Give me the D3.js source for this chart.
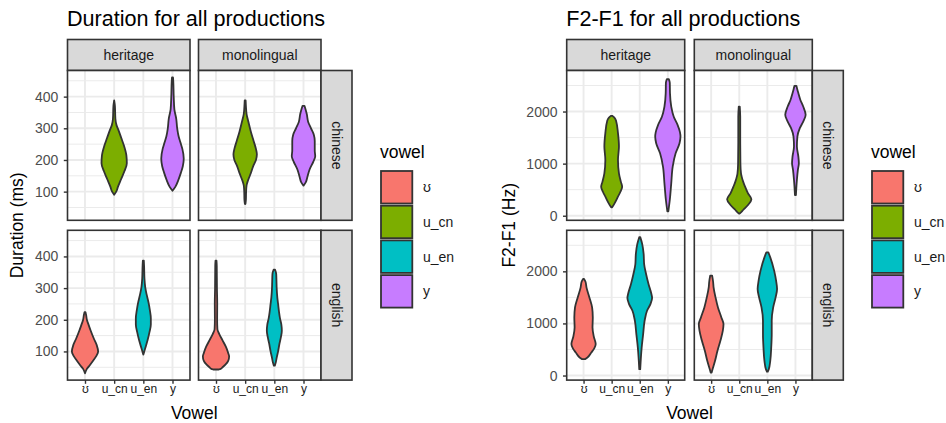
<!DOCTYPE html>
<html><head><meta charset="utf-8">
<script src="https://cdn.jsdelivr.net/npm/d3@7"></script>
<style>body{margin:0;background:#fff}svg{display:block;font-family:"Liberation Sans",Arial,sans-serif}</style>
</head><body><svg id="c" width="946" height="423"></svg>
<script>
// ---------- data ----------
const vowels = ["ʊ","u_cn","u_en","y"];
const groups = ["heritage","monolingual"];
const languages = ["chinese","english"];
const vowelColors = ["#F8766D","#7CAE00","#00BFC4","#C77CFF"];
const durTicks = [100,200,300,400];
const durMinor = [50,150,250,350,450];
const f2Ticks = [0,1000,2000];
const f2Minor = [500,1500,2500];

// violin density profiles: [value, density]
const durHerChiUcn = [[388,0],[370,0.8],[330,1.3],[310,2.5],[295,4.5],[270,7.5],[245,10.5],[215,13],[190,13.5],[165,11],[140,7.5],[115,4],[100,2.2],[90,0]];
const durHerChiY   = [[461,0.5],[450,0.8],[400,1.3],[360,2],[330,4],[300,5],[275,6.5],[255,8.5],[235,10.5],[205,12],[180,11],[160,9],[135,6],[115,3],[103,0]];
const durMonChiUcn = [[388,0.5],[370,0.8],[345,1.5],[320,3.5],[290,6],[260,9],[235,11.5],[218,12.5],[200,11.5],[180,8.5],[158,6],[135,3],[120,1.5],[100,1],[75,0.8],[61,0.3]];
const durMonChiY   = [[371,1],[362,2],[345,3.5],[320,5],[300,8],[280,11],[260,12],[230,12],[212,12.5],[195,10.5],[170,6.5],[145,4],[130,2.5],[119,0]];
const durHerEngU   = [[224,0.5],[215,1.2],[200,2],[187,3.5],[166,6],[140,9.5],[120,12.5],[100,14],[85,12],[72,9],[58,5.5],[45,2],[31,0]];
const durHerEngUen = [[387,0.5],[370,0.8],[330,1.2],[303,2],[280,3.5],[255,5.5],[230,7],[205,8],[185,8],[160,6.5],[135,4.5],[110,2],[90,0]];
const durMonEngU   = [[387,0.5],[370,0.8],[300,1],[250,1.3],[200,1.2],[170,1.5],[155,3.5],[135,7],[115,10.5],[95,13],[84,14],[70,13],[58,10],[50,7],[45,5],[43,3]];
const durMonEngUen = [[358,0.8],[345,2],[320,2.3],[300,2.5],[270,3.2],[250,4],[225,5],[205,6],[185,7.5],[165,8],[145,7],[125,5.5],[100,4],[80,2.5],[65,1.5],[55,0.5]];

const f2HerChiUcn = [[1917,0.5],[1880,3],[1810,4.7],[1585,6.5],[1327,7.5],[1071,6.5],[815,7.5],[650,9.5],[558,10.8],[460,9],[366,6.5],[238,3],[162,0.5]];
const f2HerChiY   = [[2623,1],[2550,2],[2353,2.2],[2096,3.5],[1904,6],[1744,10],[1600,12.5],[1519,13],[1391,12],[1199,8],[943,5],[622,3.5],[302,2],[85,0.5]];
const f2MonChiUcn = [[2096,0.5],[1900,1],[1400,1],[1000,1.2],[815,1.8],[750,2.5],[654,4],[558,6],[430,9],[315,12.5],[206,9],[110,4],[60,1.5],[43,0.3]];
const f2MonChiY   = [[2494,1],[2420,2],[2353,3],[2225,5],[2096,8],[1937,10.5],[1808,8],[1680,4.5],[1519,2],[1327,1.5],[1135,3],[1008,3.5],[879,2.5],[687,1.5],[398,0.5]];
const f2HerEngU   = [[1854,0.5],[1800,2],[1692,3],[1500,6],[1308,8.8],[1115,9.5],[923,9.2],[750,10.5],[604,12.5],[520,11],[442,8],[346,4],[315,1.5]];
const f2HerEngUen = [[2657,0.5],[2527,2.5],[2335,4],[2141,4.5],[1949,6.5],[1756,9],[1564,12],[1487,12.7],[1372,11],[1244,7.5],[1051,5],[796,3.5],[540,2],[123,0.5]];
const f2MonEngU   = [[1917,1],[1800,2],[1692,2.5],[1500,4.5],[1308,7],[1115,10.5],[988,12.7],[860,12],[667,9.5],[476,6.5],[283,4],[123,1.5],[58,0.5]];
const f2MonEngUen = [[2365,1],[2269,3],[2013,7],[1820,9],[1660,10],[1500,8.5],[1308,6],[1051,4.5],[796,4.5],[540,4],[283,3],[123,1.5],[77,0.5]];

const durViolins = [
  {group:"heritage",    lang:"chinese", vowel:"u_cn", profile:durHerChiUcn},
  {group:"heritage",    lang:"chinese", vowel:"y",    profile:durHerChiY},
  {group:"monolingual", lang:"chinese", vowel:"u_cn", profile:durMonChiUcn},
  {group:"monolingual", lang:"chinese", vowel:"y",    profile:durMonChiY},
  {group:"heritage",    lang:"english", vowel:"ʊ",    profile:durHerEngU},
  {group:"heritage",    lang:"english", vowel:"u_en", profile:durHerEngUen},
  {group:"monolingual", lang:"english", vowel:"ʊ",    profile:durMonEngU},
  {group:"monolingual", lang:"english", vowel:"u_en", profile:durMonEngUen}
];
const f2Violins = [
  {group:"heritage",    lang:"chinese", vowel:"u_cn", profile:f2HerChiUcn},
  {group:"heritage",    lang:"chinese", vowel:"y",    profile:f2HerChiY},
  {group:"monolingual", lang:"chinese", vowel:"u_cn", profile:f2MonChiUcn},
  {group:"monolingual", lang:"chinese", vowel:"y",    profile:f2MonChiY},
  {group:"heritage",    lang:"english", vowel:"ʊ",    profile:f2HerEngU},
  {group:"heritage",    lang:"english", vowel:"u_en", profile:f2HerEngUen},
  {group:"monolingual", lang:"english", vowel:"ʊ",    profile:f2MonEngU},
  {group:"monolingual", lang:"english", vowel:"u_en", profile:f2MonEngUen}
];

// ---------- drawing ----------
const svg = d3.select("#c");
const color = d3.scaleOrdinal().domain(vowels).range(vowelColors);
const DARK = "#333333", GRID = "#ebebeb";
const FONT = '"Liberation Sans",Arial,sans-serif';

function drawChart(cfg) {
  const g = svg.append("g");
  const all = cfg.violins.flatMap(v => v.profile);
  const lo = d3.min(all, d => d[0]), hi = d3.max(all, d => d[0]);
  const pad = (hi - lo) * 0.05;
  const dMax = d3.max(all, d => d[1]);
  const pw = cfg.pw, ph = cfg.ph, stripH = 31;

  cfg.cols.forEach((cx, ci) => {
    g.append("rect").attr("x", cx).attr("y", cfg.rows[0] - stripH).attr("width", pw).attr("height", stripH)
      .attr("fill", "#d9d9d9").attr("stroke", DARK).attr("stroke-width", 1.6);
    g.append("text").attr("x", cx + pw / 2).attr("y", cfg.rows[0] - stripH / 2).attr("dy", "0.35em")
      .attr("text-anchor", "middle").attr("font-size", 14).attr("fill", "#1a1a1a").text(groups[ci]);

    cfg.rows.forEach((ry, ri) => {
      const x = d3.scalePoint().domain(vowels).range([cx, cx + pw]).padding(0.6);
      const y = d3.scaleLinear().domain([lo - pad, hi + pad]).range([ry + ph, ry]);
      const w = d3.scaleLinear().domain([0, dMax]).range([0, 0.45 * x.step()]);
      const inR = v => y(v) >= ry && y(v) <= ry + ph;

      g.append("rect").attr("x", cx).attr("y", ry).attr("width", pw).attr("height", ph).attr("fill", "#fff");
      g.selectAll(null).data(cfg.minor.filter(inR)).join("line")
        .attr("x1", cx).attr("x2", cx + pw).attr("y1", d => y(d)).attr("y2", d => y(d))
        .attr("stroke", GRID).attr("stroke-width", 1);
      g.selectAll(null).data(cfg.ticks.filter(inR)).join("line")
        .attr("x1", cx).attr("x2", cx + pw).attr("y1", d => y(d)).attr("y2", d => y(d))
        .attr("stroke", GRID).attr("stroke-width", 1.9);
      g.selectAll(null).data(vowels).join("line")
        .attr("x1", d => x(d)).attr("x2", d => x(d)).attr("y1", ry).attr("y2", ry + ph)
        .attr("stroke", GRID).attr("stroke-width", 1.9);

      cfg.violins.filter(v => v.group === groups[ci] && v.lang === languages[ri]).forEach(v => {
        const xc = x(v.vowel);
        const area = d3.area().curve(d3.curveMonotoneY)
          .y(d => y(d[0])).x0(d => xc - w(d[1])).x1(d => xc + w(d[1]));
        g.append("path").attr("d", area(v.profile))
          .attr("fill", color(v.vowel)).attr("stroke", DARK).attr("stroke-width", 1.8)
          .attr("stroke-linejoin", "round");
      });

      g.append("rect").attr("x", cx).attr("y", ry).attr("width", pw).attr("height", ph)
        .attr("fill", "none").attr("stroke", DARK).attr("stroke-width", 1.6);

      if (ci === 0) {
        const ax = g.append("g").attr("transform", `translate(${cx},0)`)
          .call(d3.axisLeft(y).tickValues(cfg.ticks).tickFormat(d3.format("d")).tickSize(3.7).tickPadding(5.5));
        ax.select(".domain").remove();
        ax.selectAll(".tick line").attr("stroke", DARK).attr("stroke-width", 1.4);
        ax.selectAll(".tick text").attr("font-size", 14).attr("fill", "#4d4d4d").attr("font-family", FONT);
      }
      if (ri === cfg.rows.length - 1) {
        const ax = g.append("g").attr("transform", `translate(0,${ry + ph})`)
          .call(d3.axisBottom(x).tickSize(3.7).tickPadding(0.5));
        ax.select(".domain").remove();
        ax.selectAll(".tick line").attr("stroke", DARK).attr("stroke-width", 1.4);
        ax.selectAll(".tick text").attr("font-size", 12).attr("fill", "#1a1a1a").attr("font-family", FONT);
      }
      if (ci === cfg.cols.length - 1) {
        const sx = cx + pw;
        g.append("rect").attr("x", sx).attr("y", ry).attr("width", stripH).attr("height", ph)
          .attr("fill", "#d9d9d9").attr("stroke", DARK).attr("stroke-width", 1.6);
        g.append("text").attr("transform", `translate(${sx + stripH / 2},${ry + ph / 2}) rotate(90)`)
          .attr("dy", "0.35em").attr("text-anchor", "middle").attr("font-size", 14)
          .attr("fill", "#1a1a1a").text(languages[ri]);
      }
    });
  });

  const left = cfg.cols[0], right = cfg.cols[cfg.cols.length - 1] + pw;
  const top = cfg.rows[0], bottom = cfg.rows[cfg.rows.length - 1] + ph;
  g.append("text").attr("x", left - 0.5).attr("y", 26).attr("font-size", 21.6).attr("fill", "#000").text(cfg.title);
  g.append("text").attr("x", (left + right) / 2).attr("y", 419).attr("text-anchor", "middle")
    .attr("font-size", 17.5).attr("fill", "#000").text("Vowel");
  g.append("text").attr("transform", `translate(${cfg.yTitleX},${(top + bottom) / 2}) rotate(-90)`)
    .attr("text-anchor", "middle").attr("font-size", 17.5).attr("fill", "#000").text(cfg.yTitle);

  const lx = cfg.legendX, step = 34.7, ly = 170;
  g.append("text").attr("x", lx).attr("y", 158).attr("font-size", 17.5).attr("fill", "#000").text("vowel");
  const key = g.selectAll(null).data(vowels).join("g").attr("transform", (d, i) => `translate(${lx},${ly + i * step})`);
  key.append("rect").attr("x", 1).attr("y", 1).attr("width", 31.3).attr("height", step - 2.2)
    .attr("fill", d => color(d)).attr("stroke", DARK).attr("stroke-width", 1.8);
  key.append("text").attr("x", 43).attr("y", step / 2).attr("dy", "0.35em").attr("font-size", 14)
    .attr("fill", "#1a1a1a").text(d => d);
}

drawChart({title:"Duration for all productions", yTitle:"Duration (ms)", yTitleX:23,
  violins:durViolins, ticks:durTicks, minor:durMinor,
  cols:[67.5,198.5], rows:[70.5,230.3], pw:122.5, ph:149.8, legendX:380});
drawChart({title:"F2-F1 for all productions", yTitle:"F2-F1 (Hz)", yTitleX:515,
  violins:f2Violins, ticks:f2Ticks, minor:f2Minor,
  cols:[566.7,694.3], rows:[70.5,230.3], pw:118, ph:149.8, legendX:871});
</script></body></html>
